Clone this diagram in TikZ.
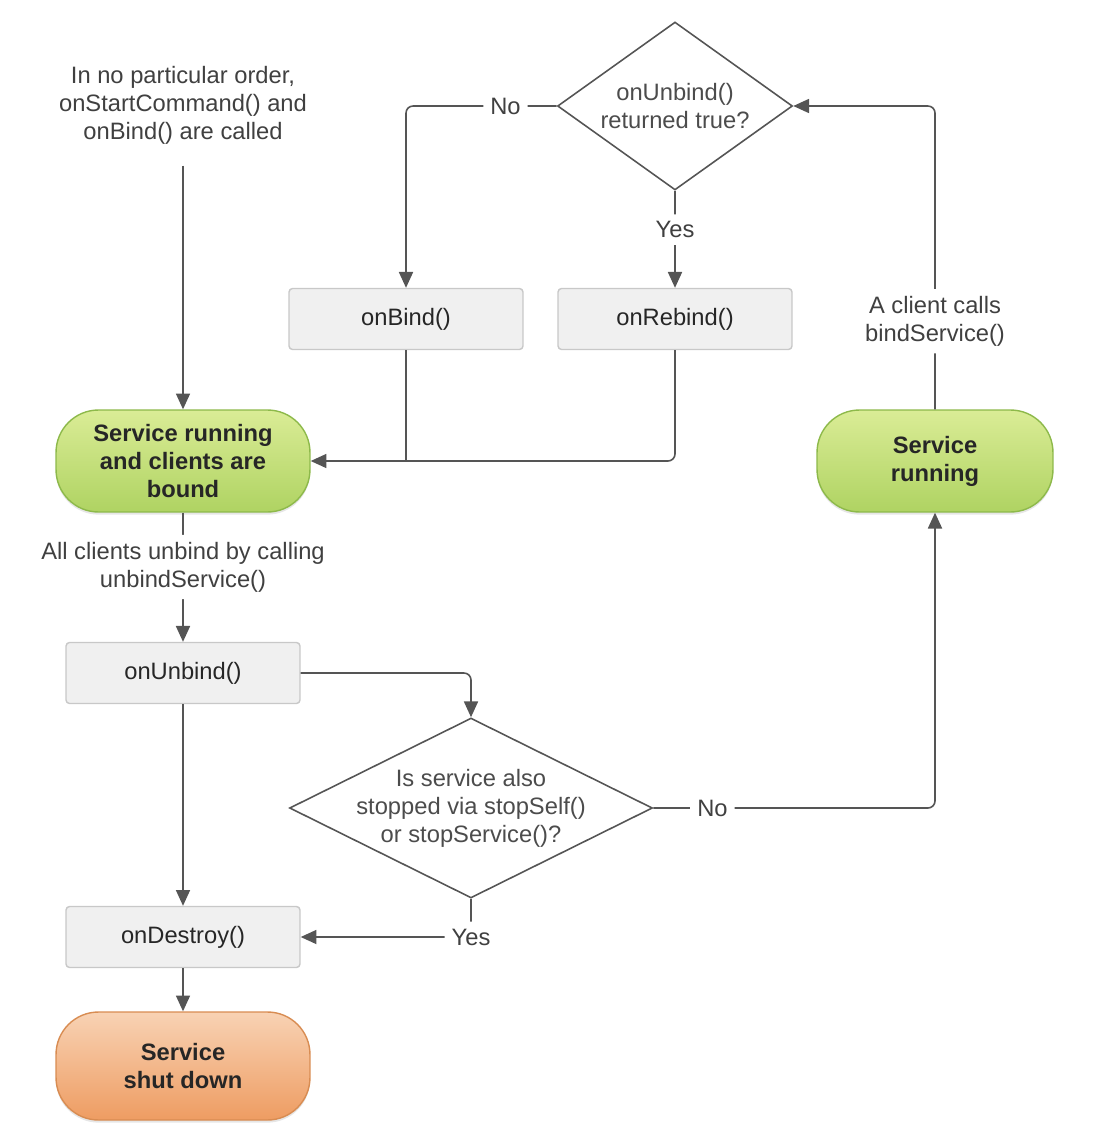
\documentclass[tikz,border=0pt]{standalone}
\usepackage{fontspec}
\setmainfont{Liberation Sans}
\usetikzlibrary{shapes.geometric,arrows.meta,shadows}

\definecolor{lineclr}{HTML}{555555}
\definecolor{boxfill}{HTML}{F0F0F0}
\definecolor{boxedge}{HTML}{C8C8C8}
\definecolor{runtop}{HTML}{DAEC96}
\definecolor{runbot}{HTML}{AFD362}
\definecolor{runedge}{HTML}{8DB94A}
\definecolor{stoptop}{HTML}{F8D2B4}
\definecolor{stopbot}{HTML}{EE9C62}
\definecolor{stopedge}{HTML}{D88C52}

\begin{document}
\begin{tikzpicture}[
        x=0.02cm, y=-0.02cm,
        font=\fontsize{13.5}{16}\selectfont,
        state/.style={rectangle, draw=runedge, top color=runtop, bottom color=runbot, line width=0.8pt, rounded corners=0.85cm, minimum width=5.08cm, minimum height=2.04cm, align=center, font=\fontsize{13.5}{16}\selectfont\bfseries, text=black!85, drop shadow={opacity=0.2, shadow xshift=0pt, shadow yshift=-1.5pt}},
        box/.style={rectangle, draw=boxedge, fill=boxfill, line width=0.8pt, rounded corners=2pt, minimum width=4.68cm, minimum height=1.22cm, text=black!85},
        decision/.style={diamond, draw=lineclr, line width=0.9pt, fill=white, inner sep=-4pt, align=center, text=black!70},
        tag/.style={fill=white, inner sep=4pt, text=black!75, align=center},
        arrow/.style={->, >={Triangle[length=9pt, width=8pt]}, draw=lineclr, line width=0.9pt, rounded corners=4pt}
    ]
        \useasboundingbox (0,0) rectangle (1096,1136);

        % Start note
        \node[tag, inner sep=0pt] (note) at (183,105) {In no particular order,\\onStartCommand() and\\onBind() are called};

        % Running states
        \node[state] (bound) at (183,461) {Service running\\and clients are\\bound};
        \node[state, minimum width=4.72cm] (running) at (935,461) {Service\\running};

        % Rebind decision
        \node[decision, aspect=1.4, minimum width=4.7cm, minimum height=3.36cm] (returned) at (675,106) {onUnbind()\\returned true?};
        \node[box] (bind) at (406,319) {onBind()};
        \node[box] (rebind) at (675,319) {onRebind()};

        % Unbind and stop
        \node[box] (unbind) at (183,673) {onUnbind()};
        \node[decision, aspect=2, minimum width=7.26cm, minimum height=3.6cm] (stopped) at (471,808) {Is service also\\stopped via stopSelf()\\or stopService()?};
        \node[box] (destroy) at (183,937) {onDestroy()};
        \node[state, draw=stopedge, top color=stoptop, bottom color=stopbot, minimum height=2.16cm] (shutdown) at (183,1066) {Service\\shut down};

        % Arrows
        \draw[arrow, shorten <=12pt] (note.south) -- (bound.north);
        \draw[arrow] (returned.west) -| (bind.north) node[tag, pos=0.17] {No};
        \draw[arrow] (returned.south) -- (rebind.north) node[tag, pos=0.4] {Yes};
        \draw[arrow] (rebind.south) |- (bound.east);
        \draw[arrow, -] (bind.south) -- (bind.south |- bound.east);
        \draw[arrow] (running.north) |- (returned.east) node[tag, pos=0.145] {A client calls\\bindService()};
        \draw[arrow] (bound.south) -- (unbind.north) node[tag, pos=0.42] {All clients unbind by calling\\unbindService()};
        \draw[arrow] (unbind.east) -| (stopped.north);
        \draw[arrow] (stopped.east) -| (running.south) node[tag, pos=0.105] {No};
        \draw[arrow] (stopped.south) |- (destroy.east) node[tag, pos=0.5] {Yes};
        \draw[arrow] (unbind.south) -- (destroy.north);
        \draw[arrow] (destroy.south) -- (shutdown.north);

    \end{tikzpicture}
\end{document}
